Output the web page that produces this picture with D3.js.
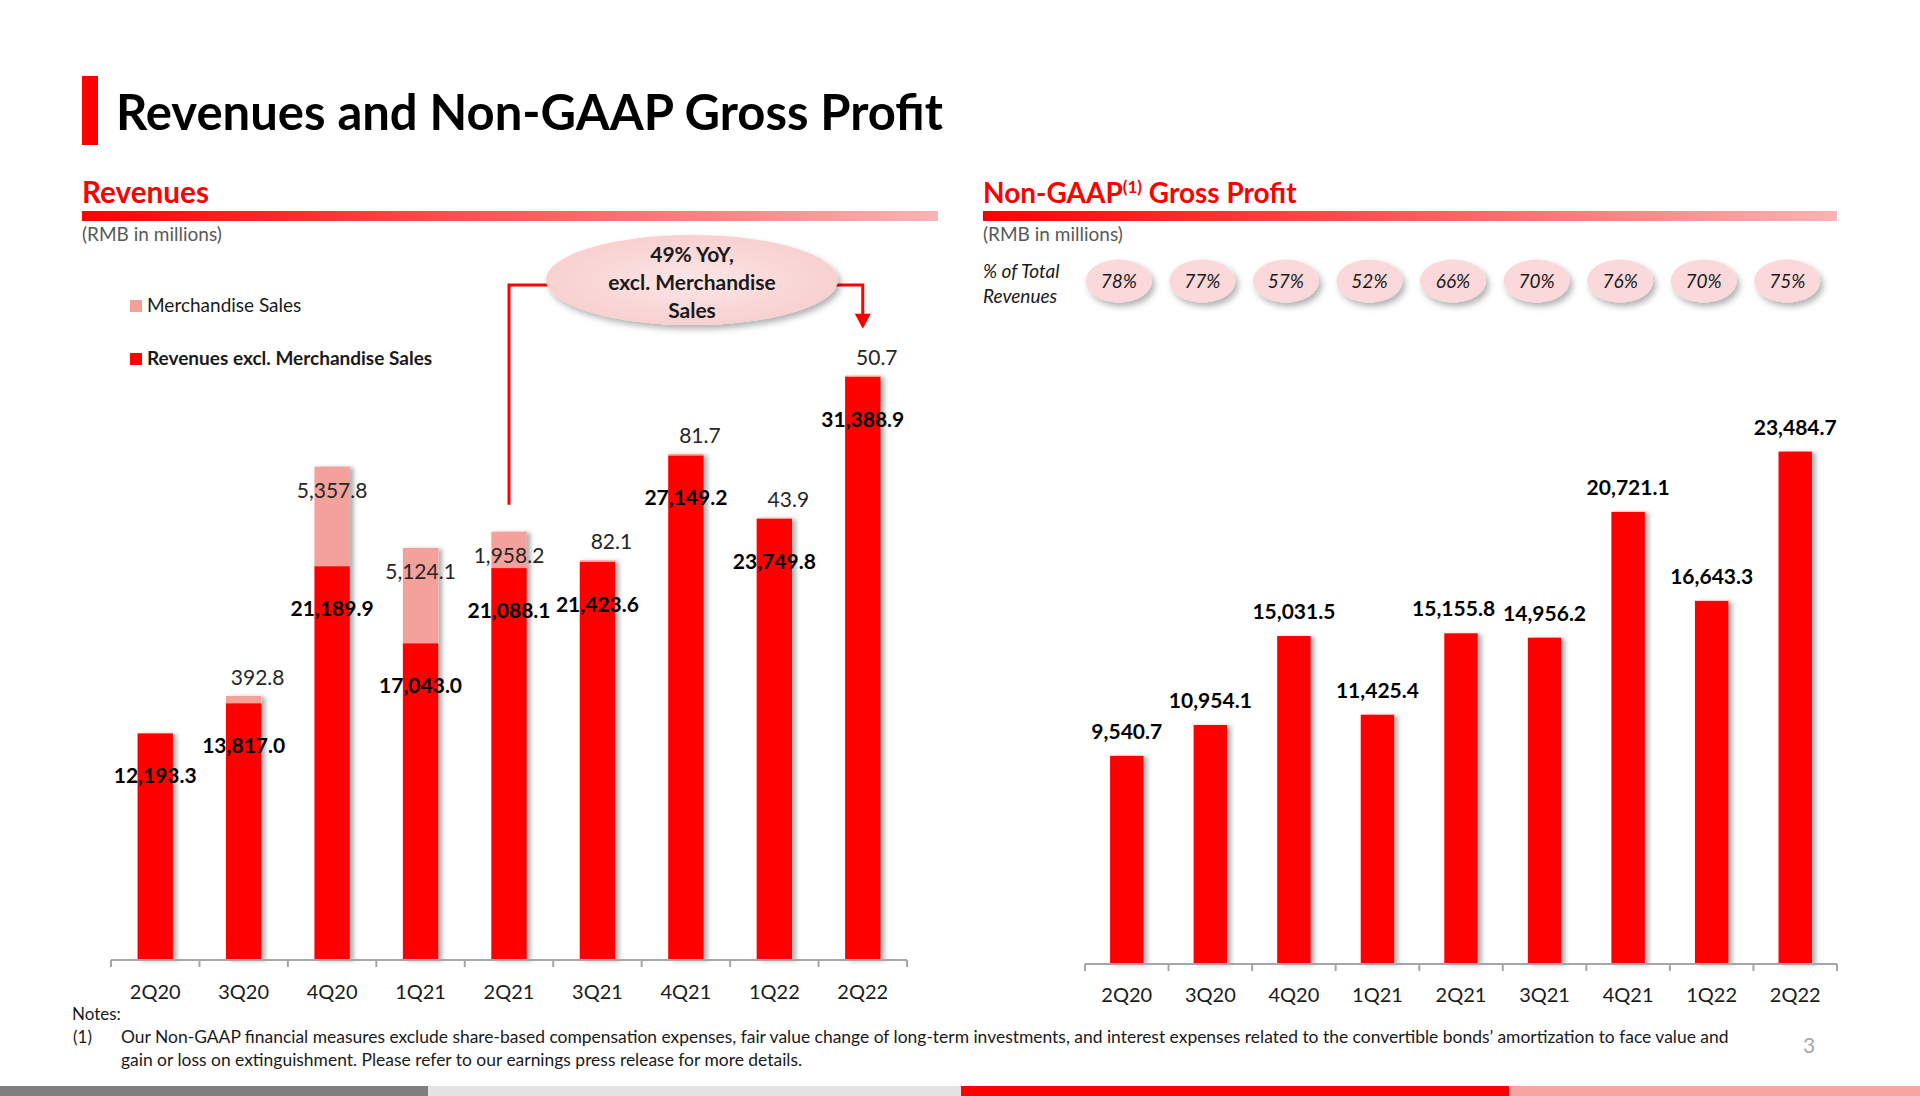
<!DOCTYPE html>
<html>
<head>
<meta charset="utf-8">
<script src="https://cdn.jsdelivr.net/npm/d3@7"></script>
<style>
  body { margin: 0; background: #fff; }
  svg { display: block; font-family: Lato, "Open Sans", sans-serif; }
</style>
</head>
<body>
<svg id="slide" width="1920" height="1096"></svg>
<script>
// donnees
const quarters = ["2Q20", "3Q20", "4Q20", "1Q21", "2Q21", "3Q21", "4Q21", "1Q22", "2Q22"];
const revExclMerch = [12193.3, 13817.0, 21189.9, 17043.0, 21088.1, 21423.6, 27149.2, 23749.8, 31388.9];
const merchSales = [null, 392.8, 5357.8, 5124.1, 1958.2, 82.1, 81.7, 43.9, 50.7];
const grossProfit = [9540.7, 10954.1, 15031.5, 11425.4, 15155.8, 14956.2, 20721.1, 16643.3, 23484.7];
const pctOfRevenue = [78, 77, 57, 52, 66, 70, 76, 70, 75];
const noteLines = [
  "Our Non-GAAP financial measures exclude share-based compensation expenses, fair value change of long-term investments, and interest expenses related to the convertible bonds\u2019 amortization to face value and",
  "gain or loss on extinguishment. Please refer to our earnings press release for more details."
];

const RED = "#ff0000", PINK = "#f4a19b", INK = "#1a1a1a", AXIS = "#a6a6a6";
const fmt = d3.format(",.1f");

const svg = d3.select("#slide");
const defs = svg.append("defs");

// degrade des filets sous les sous-titres
const grad = defs.append("linearGradient").attr("id", "hdrGrad");
grad.append("stop").attr("offset", "0%").attr("stop-color", "#ff0000");
grad.append("stop").attr("offset", "100%").attr("stop-color", "#fbb3b3");

const bubble = defs.append("radialGradient").attr("id", "bubbleGrad");
bubble.append("stop").attr("offset", "0%").attr("stop-color", "#fde6e6");
bubble.append("stop").attr("offset", "100%").attr("stop-color", "#f8d0d0");

// ombres
defs.append("filter").attr("id", "barShadow")
  .attr("x", "-30%").attr("y", "-5%").attr("width", "170%").attr("height", "110%")
  .append("feDropShadow")
  .attr("dx", 4).attr("dy", 1).attr("stdDeviation", 2)
  .attr("flood-color", "#000").attr("flood-opacity", 0.3);
defs.append("filter").attr("id", "pillShadow")
  .attr("x", "-30%").attr("y", "-30%").attr("width", "170%").attr("height", "180%")
  .append("feDropShadow")
  .attr("dx", 3).attr("dy", 4).attr("stdDeviation", 3)
  .attr("flood-color", "#000").attr("flood-opacity", 0.3);

// ajuste la taille de police pour tenir une largeur donnee
function fitWidth(sel, w) {
  const fs = parseFloat(sel.attr("font-size"));
  const len = sel.node().getComputedTextLength();
  sel.attr("font-size", (fs * w / len).toFixed(2));
}

// titre
svg.append("rect").attr("x", 82).attr("y", 76).attr("width", 16).attr("height", 69).attr("fill", RED);
svg.append("text").attr("x", 116).attr("y", 130)
  .attr("font-size", 46).attr("font-weight", "bold").attr("fill", "#000")
  .text("Revenues and Non-GAAP Gross Profit")
  .call(fitWidth, 827);

// sous-titres
function header(x0, x1, build) {
  const t = svg.append("text").attr("x", x0).attr("y", 203)
    .attr("font-size", 28).attr("font-weight", "bold").attr("fill", RED);
  build(t);
  svg.append("rect").attr("x", x0).attr("y", 211).attr("width", x1 - x0).attr("height", 10)
    .attr("fill", "url(#hdrGrad)");
  svg.append("text").attr("x", x0).attr("y", 241)
    .attr("font-size", 19).attr("fill", "#595959").text("(RMB in millions)");
  return t;
}
header(82, 938, t => t.text("Revenues")).call(fitWidth, 127);
header(983, 1837, t => {
  t.append("tspan").text("Non-GAAP");
  t.append("tspan").attr("font-size", 17).attr("dy", -10).text("(1)");
  t.append("tspan").attr("dy", 10).text(" Gross Profit");
});

// ---------- Revenus (gauche) ----------
const xL = d3.scaleBand().domain(quarters).range([111, 907]).paddingInner(0.6).paddingOuter(0.3);
const yL = d3.scaleLinear().domain([0, 38200]).range([960, 250]);
const gLeft = svg.append("g");

function drawAxis(g, x, y0, pad) {
  g.append("g")
    .attr("transform", `translate(0,${y0})`)
    .call(d3.axisBottom(x).tickSize(0).tickPadding(pad))
    .call(a => a.select(".domain").remove())
    .call(a => a.selectAll("text").attr("font-size", 20).attr("fill", INK).attr("font-family", "Lato, sans-serif"));
  const r = x.range();
  g.append("line").attr("x1", r[0]).attr("x2", r[1]).attr("y1", y0).attr("y2", y0)
    .attr("stroke", AXIS).attr("stroke-width", 2);
  g.selectAll(".bTick").data(d3.range(quarters.length + 1)).join("line")
    .attr("x1", i => r[0] + i * x.step()).attr("x2", i => r[0] + i * x.step())
    .attr("y1", y0).attr("y2", y0 + 7)
    .attr("stroke", AXIS).attr("stroke-width", 2);
}

const stacks = gLeft.selectAll(".stack").data(quarters).join("g")
  .attr("filter", "url(#barShadow)");
stacks.append("rect")
  .attr("x", d => xL(d)).attr("width", xL.bandwidth())
  .attr("y", (d, i) => yL(revExclMerch[i]))
  .attr("height", (d, i) => yL(0) - yL(revExclMerch[i]))
  .attr("fill", RED);
stacks.filter((d, i) => merchSales[i] != null).append("rect")
  .attr("x", d => xL(d)).attr("width", xL.bandwidth())
  .attr("y", d => { const i = quarters.indexOf(d); return yL(revExclMerch[i] + merchSales[i]); })
  .attr("height", d => { const i = quarters.indexOf(d); return yL(revExclMerch[i]) - yL(revExclMerch[i] + merchSales[i]); })
  .attr("fill", PINK);

drawAxis(gLeft, xL, 960, 25);

// etiquettes revenus hors marchandises
gLeft.selectAll(".lblRev").data(quarters).join("text")
  .attr("x", d => xL(d) + xL.bandwidth() / 2)
  .attr("y", (d, i) => yL(revExclMerch[i]) + 50)
  .attr("text-anchor", "middle").attr("font-size", 21).attr("font-weight", "bold").attr("fill", "#000")
  .text((d, i) => fmt(revExclMerch[i]));

// etiquettes marchandises
gLeft.selectAll(".lblMerch").data(quarters.filter((d, i) => merchSales[i] != null)).join("text")
  .each(function (d) {
    const i = quarters.indexOf(d);
    const top = yL(revExclMerch[i] + merchSales[i]);
    const small = yL(revExclMerch[i]) - top < 20;
    d3.select(this)
      .attr("x", xL(d) + xL.bandwidth() / 2 + (small ? 14 : 0))
      .attr("y", small ? top - 11 : top + 31);
  })
  .attr("text-anchor", "middle").attr("font-size", 21).attr("fill", "#262626")
  .text(d => fmt(merchSales[quarters.indexOf(d)]));

// legende
const legend = [
  { label: "Merchandise Sales", color: PINK, weight: "normal", y: 312 },
  { label: "Revenues excl. Merchandise Sales", color: RED, weight: "bold", y: 365 }
];
const lg = gLeft.selectAll(".leg").data(legend).join("g");
lg.append("rect").attr("x", 130).attr("y", d => d.y - 12).attr("width", 12).attr("height", 12).attr("fill", d => d.color);
lg.append("text").attr("x", 147).attr("y", d => d.y).attr("font-size", 19)
  .attr("font-weight", d => d.weight).attr("fill", INK).text(d => d.label);

// bulle 49% YoY
const cx21 = xL("2Q21") + xL.bandwidth() / 2;
const cx22 = xL("2Q22") + xL.bandwidth() / 2;
const iA = quarters.indexOf("2Q21"), iB = quarters.indexOf("2Q22");
const bub = { cx: 692, cy: 280, rx: 146, ry: 45 };
const lineY = 285;
gLeft.append("path")
  .attr("d", `M${cx21},${yL(revExclMerch[iA] + merchSales[iA]) - 27}V${lineY}H${bub.cx - bub.rx + 2}`)
  .attr("fill", "none").attr("stroke", RED).attr("stroke-width", 3);
const tipY = yL(revExclMerch[iB] + merchSales[iB]) - 47;
gLeft.append("path")
  .attr("d", `M${bub.cx + bub.rx - 2},${lineY}H${cx22}V${tipY - 12}`)
  .attr("fill", "none").attr("stroke", RED).attr("stroke-width", 3);
gLeft.append("path")
  .attr("d", `M${cx22 - 8},${tipY - 15}L${cx22 + 8},${tipY - 15}L${cx22},${tipY}Z`)
  .attr("fill", RED);
gLeft.append("ellipse")
  .attr("cx", bub.cx).attr("cy", bub.cy).attr("rx", bub.rx).attr("ry", bub.ry)
  .attr("fill", "url(#bubbleGrad)").attr("filter", "url(#pillShadow)");
gLeft.selectAll(".bubTxt").data(["49% YoY,", "excl. Merchandise", "Sales"]).join("text")
  .attr("x", bub.cx).attr("y", (d, i) => 262 + i * 28)
  .attr("text-anchor", "middle").attr("font-size", 21).attr("font-weight", "bold").attr("fill", INK)
  .text(d => d);

// ---------- Marge brute non-GAAP (droite) ----------
const xR = d3.scaleBand().domain(quarters).range([1085, 1837]).paddingInner(0.6).paddingOuter(0.3);
const yR = d3.scaleLinear().domain([0, 25000]).range([964, 418.5]);
const gRight = svg.append("g");

gRight.selectAll(".gp").data(quarters).join("rect")
  .attr("x", d => xR(d)).attr("width", xR.bandwidth())
  .attr("y", (d, i) => yR(grossProfit[i]))
  .attr("height", (d, i) => yR(0) - yR(grossProfit[i]))
  .attr("fill", RED).attr("filter", "url(#barShadow)");

drawAxis(gRight, xR, 964, 24);

const gpLabels = gRight.selectAll(".lblGp").data(quarters).join("text")
  .attr("x", d => xR(d) + xR.bandwidth() / 2)
  .attr("y", (d, i) => yR(grossProfit[i]) - 17)
  .attr("text-anchor", "middle").attr("font-size", 21).attr("font-weight", "bold").attr("fill", "#000")
  .text((d, i) => fmt(grossProfit[i]));

// si deux etiquettes voisines se chevauchent, on pousse celle de gauche
const nodes = gpLabels.nodes();
for (let i = nodes.length - 2; i >= 0; i--) {
  const a = nodes[i].getBBox(), b = nodes[i + 1].getBBox();
  const overlapX = a.x + a.width + 8 - b.x;
  const overlapY = Math.min(a.y + a.height, b.y + b.height) - Math.max(a.y, b.y);
  if (overlapX > 0 && overlapY > 0) {
    d3.select(nodes[i]).attr("x", +nodes[i].getAttribute("x") - overlapX);
  }
}

// pastilles % du chiffre d'affaires
gRight.append("text").attr("x", 983).attr("y", 278).attr("font-size", 19).attr("font-style", "italic").attr("fill", INK).text("% of Total");
gRight.append("text").attr("x", 983).attr("y", 303).attr("font-size", 19).attr("font-style", "italic").attr("fill", INK).text("Revenues");
const pills = gRight.selectAll(".pill").data(quarters).join("g")
  .attr("transform", d => `translate(${xR(d) + xR.bandwidth() / 2 - 8},281)`);
pills.append("ellipse").attr("rx", 33).attr("ry", 21.5).attr("fill", "#fbd8d9").attr("filter", "url(#pillShadow)");
pills.append("text").attr("y", 7).attr("text-anchor", "middle")
  .attr("font-size", 19).attr("font-style", "italic").attr("fill", INK)
  .text((d, i) => pctOfRevenue[i] + "%");

// ---------- notes et pied ----------
svg.append("text").attr("x", 72).attr("y", 1020).attr("font-size", 17).attr("fill", INK).text("Notes:");
svg.append("text").attr("x", 73).attr("y", 1043).attr("font-size", 17).attr("fill", INK).text("(1)");
const n1 = svg.append("text").attr("x", 121).attr("y", 1043).attr("font-size", 16).attr("fill", INK).text(noteLines[0]);
n1.call(fitWidth, 1608);
svg.append("text").attr("x", 121).attr("y", 1066).attr("font-size", n1.attr("font-size")).attr("fill", INK).text(noteLines[1]);
svg.append("text").attr("x", 1803).attr("y", 1053).attr("font-size", 21).attr("fill", "#a6a6a6").text("3");

const stripes = [
  { x0: 0, x1: 428, c: "#7f7f7f" },
  { x0: 428, x1: 961, c: "#e3e3e3" },
  { x0: 961, x1: 1509, c: RED },
  { x0: 1509, x1: 1920, c: "#f5a6a1" }
];
svg.selectAll(".stripe").data(stripes).join("rect")
  .attr("x", d => d.x0).attr("width", d => d.x1 - d.x0)
  .attr("y", 1086).attr("height", 10).attr("fill", d => d.c);
</script>
</body>
</html>
